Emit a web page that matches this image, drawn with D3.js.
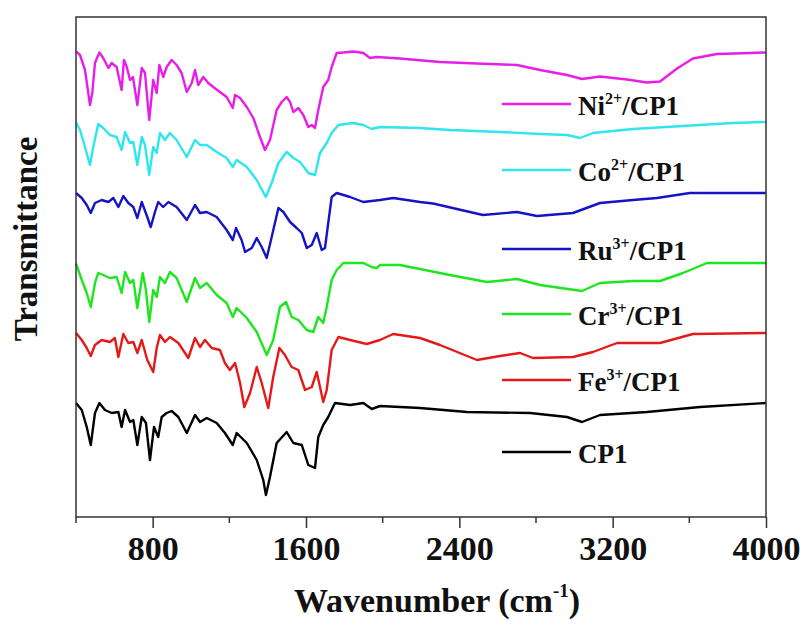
<!DOCTYPE html>
<html>
<head>
<meta charset="utf-8">
<script src="https://cdn.jsdelivr.net/npm/d3@7"></script>
<style>
  body { margin: 0; background: #fff; }
  text { font-family: "Liberation Serif", "Times New Roman", serif; font-weight: bold; fill: #111; }
</style>
</head>
<body>
<svg id="chart"></svg>
<script>
// FTIR spectra, [wavenumber (cm-1), transmittance (a.u., offset per sample)]
const cp1 = [[400, 22.8], [430, 21.4], [456, 18.0], [477, 14.4], [499, 20.8], [522, 22.8], [551, 21.4], [586, 20.8], [621, 21.0], [638, 18.0], [656, 21.4], [682, 19.0], [699, 19.4], [720, 14.4], [743, 20.0], [765, 18.8], [786, 11.4], [807, 18.0], [829, 16.0], [847, 20.0], [873, 20.8], [899, 21.2], [934, 20.0], [978, 16.8], [1021, 20.4], [1047, 19.0], [1082, 19.8], [1134, 18.8], [1177, 16.8], [1218, 14.4], [1238, 16.8], [1291, 14.8], [1343, 11.4], [1377, 7.4], [1391, 4.4], [1412, 8.0], [1447, 14.8], [1499, 17.0], [1534, 14.8], [1578, 14.4], [1612, 10.4], [1647, 9.8], [1664, 16.0], [1690, 18.4], [1716, 20.0], [1751, 22.8], [1830, 22.4], [1899, 22.8], [1943, 21.6], [1986, 22.2], [2195, 21.8], [2440, 21.0], [2769, 20.8], [2962, 20.0], [3040, 19.0], [3134, 20.4], [3379, 21.0], [3656, 22.0], [4000, 22.8]];

const fe = [[400, 36.8], [430, 35.4], [456, 33.8], [477, 32.2], [499, 34.4], [534, 35.4], [577, 35.0], [603, 35.8], [621, 32.0], [647, 36.6], [673, 34.8], [699, 35.0], [720, 32.8], [743, 35.4], [772, 31.4], [803, 29.0], [821, 33.8], [838, 36.4], [864, 35.0], [890, 36.0], [934, 34.8], [986, 31.8], [1021, 35.8], [1047, 34.0], [1073, 35.4], [1108, 33.8], [1151, 33.4], [1177, 30.8], [1203, 29.4], [1230, 30.8], [1256, 26.8], [1278, 22.0], [1308, 24.8], [1343, 30.0], [1369, 26.8], [1403, 21.8], [1429, 28.0], [1461, 33.8], [1490, 32.4], [1525, 30.0], [1560, 29.4], [1595, 25.4], [1630, 26.0], [1656, 29.0], [1690, 23.0], [1708, 25.4], [1734, 33.4], [1769, 36.0], [1830, 35.4], [1917, 34.6], [1986, 35.4], [2055, 36.6], [2195, 35.8], [2299, 34.4], [2492, 31.4], [2612, 32.2], [2717, 32.8], [2784, 31.8], [2993, 32.0], [3097, 33.0], [3223, 34.8], [3447, 34.8], [3619, 36.6], [4000, 36.8]];

const cr = [[400, 50.7], [430, 47.4], [456, 44.8], [477, 42.0], [499, 46.8], [516, 48.8], [542, 48.4], [577, 47.8], [612, 48.0], [638, 44.8], [656, 49.0], [682, 46.8], [699, 47.4], [720, 41.8], [748, 48.8], [765, 45.4], [782, 39.0], [803, 45.4], [821, 44.0], [838, 48.0], [864, 46.8], [890, 49.0], [925, 47.8], [978, 43.0], [1021, 47.8], [1047, 45.8], [1082, 46.8], [1134, 44.4], [1186, 42.8], [1218, 40.0], [1238, 41.8], [1291, 39.8], [1343, 37.0], [1395, 32.4], [1429, 35.4], [1464, 42.0], [1496, 43.0], [1525, 40.0], [1560, 39.4], [1604, 37.4], [1638, 37.0], [1664, 40.0], [1690, 38.8], [1708, 42.0], [1734, 47.4], [1760, 49.4], [1795, 50.8], [1899, 50.8], [1943, 50.0], [1969, 49.8], [1986, 50.4], [2090, 50.4], [2351, 48.4], [2544, 47.0], [2701, 47.6], [2821, 46.4], [3040, 45.2], [3134, 46.8], [3306, 47.2], [3447, 47.2], [3567, 48.8], [3692, 50.8], [4000, 50.8]];

const ru = [[400, 64.8], [430, 63.8], [456, 62.4], [477, 60.8], [499, 62.8], [534, 63.4], [569, 63.0], [595, 63.8], [621, 62.0], [647, 64.2], [673, 62.8], [699, 62.0], [720, 59.8], [743, 63.0], [772, 60.0], [790, 58.0], [812, 61.0], [829, 63.0], [855, 62.0], [882, 63.0], [925, 62.0], [978, 59.4], [1021, 62.4], [1047, 60.8], [1082, 61.0], [1134, 60.0], [1186, 57.4], [1218, 55.4], [1235, 57.8], [1264, 55.4], [1282, 53.0], [1317, 53.8], [1343, 55.8], [1369, 54.0], [1395, 51.8], [1421, 56.0], [1456, 61.8], [1482, 61.0], [1517, 59.0], [1551, 57.8], [1578, 56.8], [1604, 53.8], [1630, 54.4], [1656, 56.8], [1682, 53.4], [1699, 53.8], [1716, 58.8], [1734, 64.0], [1760, 64.8], [1830, 64.0], [1899, 63.0], [1986, 63.4], [2055, 63.8], [2195, 63.0], [2263, 62.7], [2523, 60.4], [2701, 61.0], [2805, 60.2], [2993, 60.8], [3134, 62.8], [3306, 63.4], [3431, 63.8], [3603, 64.8], [4000, 64.8]];

const co = [[400, 78.9], [421, 77.4], [447, 74.0], [473, 70.4], [490, 74.0], [516, 78.6], [542, 77.8], [577, 76.4], [612, 76.0], [638, 73.4], [656, 77.0], [682, 74.8], [699, 75.0], [720, 70.4], [743, 76.0], [760, 74.4], [782, 68.4], [803, 74.0], [821, 72.8], [838, 76.8], [864, 75.4], [890, 76.8], [925, 75.4], [978, 72.0], [1021, 75.4], [1047, 74.4], [1082, 74.4], [1134, 73.0], [1186, 71.8], [1218, 70.0], [1238, 71.4], [1291, 70.0], [1343, 67.4], [1390, 64.0], [1421, 66.8], [1456, 70.8], [1499, 73.0], [1534, 71.8], [1569, 71.0], [1612, 68.8], [1647, 68.4], [1673, 72.8], [1708, 74.8], [1734, 76.8], [1769, 78.4], [1847, 78.8], [1899, 78.4], [1943, 77.6], [1986, 78.0], [2195, 77.8], [2351, 77.4], [2612, 77.0], [2821, 76.6], [2962, 76.4], [3030, 75.8], [3097, 76.8], [3306, 77.6], [3567, 78.2], [3828, 78.8], [4000, 79.0]];

const ni = [[400, 93.1], [421, 92.4], [447, 89.4], [473, 82.4], [485, 84.8], [499, 90.8], [522, 92.9], [542, 91.8], [569, 89.8], [586, 90.8], [612, 90.0], [638, 85.4], [650, 91.4], [665, 90.0], [682, 87.4], [697, 88.0], [720, 82.4], [743, 89.8], [760, 88.8], [782, 79.4], [803, 87.4], [821, 84.8], [835, 90.4], [855, 88.0], [873, 90.0], [899, 91.4], [925, 90.4], [951, 88.8], [978, 85.0], [1004, 86.8], [1021, 89.4], [1038, 86.4], [1064, 88.0], [1090, 86.8], [1116, 86.0], [1151, 85.0], [1186, 84.0], [1218, 81.8], [1230, 84.4], [1256, 83.8], [1291, 82.0], [1325, 79.8], [1360, 76.0], [1386, 73.4], [1412, 75.4], [1447, 81.4], [1473, 83.0], [1499, 84.0], [1517, 83.0], [1534, 81.0], [1560, 81.8], [1586, 80.4], [1612, 78.0], [1630, 78.4], [1647, 77.8], [1664, 81.4], [1690, 86.0], [1716, 87.4], [1734, 90.0], [1760, 92.8], [1795, 92.9], [1847, 93.1], [1899, 92.8], [1934, 91.8], [1969, 92.0], [2090, 91.7], [2299, 91.0], [2492, 90.7], [2701, 90.4], [2821, 89.4], [2962, 88.4], [3040, 87.6], [3134, 88.1], [3275, 87.5], [3379, 86.9], [3447, 87.1], [3536, 89.7], [3619, 91.7], [3744, 92.6], [3828, 92.7], [3917, 92.8], [4000, 92.9]];

// legend entries, top to bottom; legendY is the level of each legend line in the same a.u.
const names = ["Ni", "Co", "Ru", "Cr", "Fe", "CP1"];
const charges = ["2+", "2+", "3+", "3+", "3+", ""];
const legendY = [82.6, 69.4, 53.6, 40.6, 27.4, 13.0];
const seriesData = [ni, co, ru, cr, fe, cp1];
const colors = ["#e61ee6", "#2ee6ec", "#1414c4", "#1ee61e", "#e41a1a", "#000000"];

const xTicks = [800, 1600, 2400, 3200, 4000];
const xMinor = [400, 1200, 2000, 2800, 3600];

const width = 806;
const height = 625;
const margin = { top: 17, right: 40, bottom: 108, left: 76 };

const svg = d3.select("#chart").attr("width", width).attr("height", height);

const x = d3.scaleLinear().domain([400, 4000]).range([margin.left, width - margin.right]);
const y = d3.scaleLinear().domain([0, 100]).range([height - margin.bottom, margin.top]);

const line = d3.line().x((d) => x(d[0])).y((d) => y(d[1]));

svg
  .append("g")
  .selectAll("path")
  .data(seriesData)
  .join("path")
  .attr("d", line)
  .attr("fill", "none")
  .attr("stroke", (d, i) => colors[i])
  .attr("stroke-width", 2.4)
  .attr("stroke-linejoin", "round");

// frame
svg
  .append("rect")
  .attr("x", x(400))
  .attr("y", y(100))
  .attr("width", x(4000) - x(400))
  .attr("height", y(0) - y(100))
  .attr("fill", "none")
  .attr("stroke", "#333")
  .attr("stroke-width", 1.5);

// bottom axis
const xAxis = svg
  .append("g")
  .attr("transform", `translate(0,${y(0)})`)
  .call(d3.axisBottom(x).tickValues(xTicks).tickSize(11).tickPadding(8).tickFormat(d3.format("d")));
xAxis.select(".domain").remove();
xAxis.selectAll("line").attr("stroke", "#333").attr("stroke-width", 1.5);
xAxis
  .selectAll("text")
  .attr("font-size", 34)
  .attr("font-family", "Liberation Serif, serif")
  .attr("font-weight", "bold")
  .attr("fill", "#111");

svg
  .append("g")
  .selectAll("line")
  .data(xMinor)
  .join("line")
  .attr("x1", (d) => x(d))
  .attr("x2", (d) => x(d))
  .attr("y1", y(0))
  .attr("y2", y(0) + 6)
  .attr("stroke", "#333")
  .attr("stroke-width", 1.5);

// axis titles
const xTitle = svg
  .append("text")
  .attr("x", 437)
  .attr("y", 612)
  .attr("text-anchor", "middle")
  .attr("font-size", 34);
xTitle.append("tspan").text("Wavenumber (cm");
xTitle.append("tspan").attr("font-size", 19).attr("dy", -15).text("-1");
xTitle.append("tspan").attr("dy", 15).text(")");

svg
  .append("text")
  .attr("transform", `translate(37,${(y(0) + y(100)) / 2 - 28}) rotate(-90)`)
  .attr("text-anchor", "middle")
  .attr("font-size", 33)
  .text("Transmittance");

// legend
const legend = svg
  .append("g")
  .selectAll("g")
  .data(names)
  .join("g")
  .attr("transform", (d, i) => `translate(0,${y(legendY[i])})`);

legend
  .append("line")
  .attr("x1", 502)
  .attr("x2", 571)
  .attr("stroke", (d, i) => colors[i])
  .attr("stroke-width", 2.4);

const label = legend
  .append("text")
  .attr("x", 578)
  .attr("y", 11)
  .attr("font-size", 27);
label.append("tspan").text((d) => d);
label
  .append("tspan")
  .attr("font-size", 16)
  .attr("dy", -11)
  .text((d, i) => charges[i]);
label
  .append("tspan")
  .attr("dy", 11)
  .text((d, i) => (charges[i] ? "/CP1" : ""));
</script>
</body>
</html>
